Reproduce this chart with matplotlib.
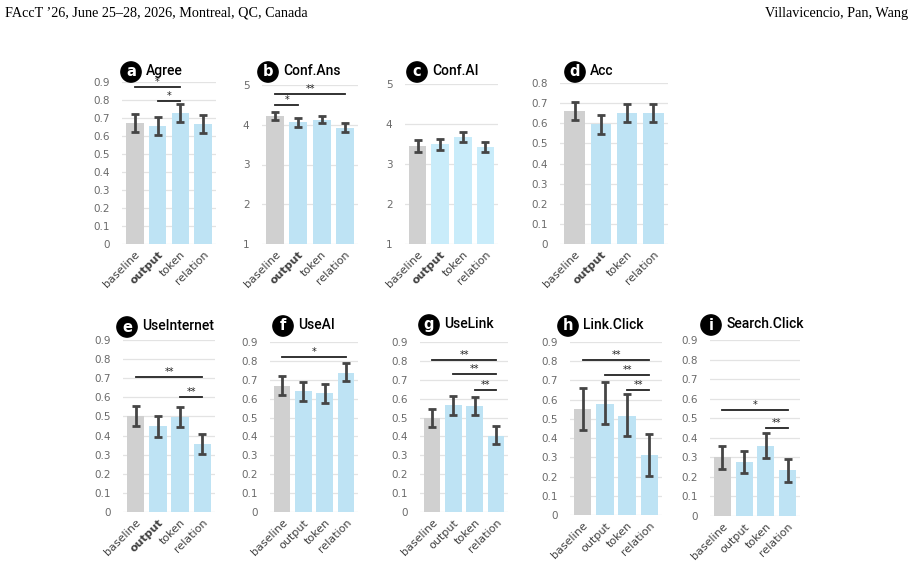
import matplotlib
matplotlib.use("Agg")
import matplotlib.pyplot as plt

W, H = 913, 570
conds = ["baseline", "output", "token", "relation"]

# values (mean) and error-bar bounds per panel
agree = [0.670, 0.653, 0.727, 0.668]
agree_lo = [0.622, 0.605, 0.679, 0.614]
agree_hi = [0.720, 0.707, 0.778, 0.716]

confans = [4.22, 4.07, 4.13, 3.93]
confans_lo = [4.12, 3.95, 4.04, 3.83]
confans_hi = [4.32, 4.18, 4.23, 4.04]

confai = [3.46, 3.49, 3.68, 3.42]
confai_lo = [3.31, 3.34, 3.56, 3.30]
confai_hi = [3.61, 3.62, 3.79, 3.55]

acc = [0.662, 0.594, 0.650, 0.650]
acc_lo = [0.618, 0.545, 0.604, 0.604]
acc_hi = [0.707, 0.642, 0.695, 0.695]

useint = [0.503, 0.450, 0.498, 0.356]
useint_lo = [0.448, 0.395, 0.446, 0.303]
useint_hi = [0.556, 0.503, 0.551, 0.408]

useai = [0.668, 0.639, 0.630, 0.737]
useai_lo = [0.621, 0.590, 0.578, 0.691]
useai_hi = [0.720, 0.690, 0.680, 0.789]

uselink = [0.497, 0.564, 0.561, 0.405]
uselink_lo = [0.450, 0.511, 0.511, 0.360]
uselink_hi = [0.545, 0.616, 0.609, 0.453]

linkclick = [0.553, 0.580, 0.515, 0.313]
linkclick_lo = [0.443, 0.475, 0.409, 0.205]
linkclick_hi = [0.661, 0.691, 0.627, 0.420]

searchclick = [0.300, 0.275, 0.360, 0.233]
searchclick_lo = [0.241, 0.221, 0.297, 0.176]
searchclick_hi = [0.360, 0.331, 0.424, 0.289]

# significance brackets: (i, j, y, label)
sig_a = [(0, 2, 0.870, "*"), (1, 2, 0.797, "*")]
sig_b = [(0, 3, 4.78, "**"), (0, 1, 4.49, "*")]
sig_e = [(0, 3, 0.705, "**"), (2, 3, 0.600, "**")]
sig_f = [(0, 3, 0.820, "*")]
sig_g = [(0, 3, 0.805, "**"), (1, 3, 0.728, "**"), (2, 3, 0.648, "**")]
sig_h = [(0, 3, 0.805, "**"), (1, 3, 0.730, "**"), (2, 3, 0.649, "**")]
sig_i = [(0, 3, 0.540, "*"), (2, 3, 0.450, "**")]

ticks_09 = [0, 0.1, 0.2, 0.3, 0.4, 0.5, 0.6, 0.7, 0.8, 0.9]
ticks_08 = [0, 0.1, 0.2, 0.3, 0.4, 0.5, 0.6, 0.7, 0.8]
ticks_15 = [1, 2, 3, 4, 5]

panels = [
    # letter, title, vals, lo, hi, sigs, ticks, rect(px: x0,x1,ytop,ybot), title pos, blue, bold output
    ("a", "Agree", agree, agree_lo, agree_hi, sig_a, ticks_09, (122, 216, 82, 244), (131, 72), "#BEE3F4", True),
    ("b", "Conf.Ans", confans, confans_lo, confans_hi, sig_b, ticks_15, (262, 358, 85, 244), (268, 72), "#BEE3F4", True),
    ("c", "Conf.AI", confai, confai_lo, confai_hi, [], ticks_15, (405, 498, 84, 244), (417, 72), "#C9ECFA", True),
    ("d", "Acc", acc, acc_lo, acc_hi, [], ticks_08, (560, 668, 83, 244), (575, 72), "#BEE3F4", True),
    ("e", "UseInternet", useint, useint_lo, useint_hi, sig_e, ticks_09, (123, 215, 340, 512), (127, 327), "#BEE3F4", True),
    ("f", "UseAI", useai, useai_lo, useai_hi, sig_f, ticks_09, (270, 358, 342, 512), (283, 326), "#BEE3F4", False),
    ("g", "UseLink", uselink, uselink_lo, uselink_hi, sig_g, ticks_09, (420, 508, 342, 512), (429, 325), "#BEE3F4", False),
    ("h", "Link.Click", linkclick, linkclick_lo, linkclick_hi, sig_h, ticks_09, (570, 662, 342, 515), (568, 326), "#BEE3F4", False),
    ("i", "Search.Click", searchclick, searchclick_lo, searchclick_hi, sig_i, ticks_09, (710, 800, 340, 516), (711, 325), "#BEE3F4", False),
]

fig = plt.figure(figsize=(W / 100, H / 100), dpi=100)
fig.patch.set_facecolor("white")

fig.text(5 / W, 1 - 13 / H, "FAccT \u201926, June 25\u201328, 2026, Montreal, QC, Canada",
         family="Liberation Serif", fontsize=10.2, ha="left", va="center", color="black")
fig.text(908 / W, 1 - 13 / H, "Villavicencio, Pan, Wang",
         family="Liberation Serif", fontsize=10.2, ha="right", va="center", color="black")

for (letter, title, vals, lo, hi, sigs, ticks, rect, tpos, blue, boldout) in panels:
    x0, x1, yt, yb = rect
    ax = fig.add_axes([x0 / W, 1 - yb / H, (x1 - x0) / W, (yb - yt) / H])
    colors = ["#D0D0D0", blue, blue, blue]
    xs = list(range(len(conds)))
    ax.bar(xs, vals, width=0.78, color=colors, zorder=2)
    yerr = [[v - l for v, l in zip(vals, lo)], [h - v for v, h in zip(vals, hi)]]
    ax.errorbar(xs, vals, yerr=yerr, fmt="none", ecolor="#454545", elinewidth=2,
                capsize=3, capthick=2, zorder=3)
    ax.set_xlim(-0.56, 3.56)
    ax.set_ylim(ticks[0], ticks[-1])
    ax.set_yticks(ticks)
    ax.set_yticklabels([("%g" % t) for t in ticks], fontsize=7.5, color="#6a6a6a")
    ax.yaxis.grid(True, color="#E3E3E3", lw=0.9, zorder=0)
    ax.set_axisbelow(True)
    for s in ax.spines.values():
        s.set_visible(False)
    ax.tick_params(axis="both", length=0, pad=9)
    ax.set_xticks(xs)
    ax.set_xticklabels(conds, rotation=45, ha="right", rotation_mode="anchor",
                       fontsize=8, color="#404040")
    ax.tick_params(axis="x", pad=4)
    if boldout:
        ax.get_xticklabels()[1].set_fontweight("bold")
    for (i, j, y, lab) in sigs:
        ax.plot([i, j], [y, y], color="#222222", lw=1.3, clip_on=False, zorder=4)
        ax.text((i + j) / 2, y, lab, ha="center", va="bottom", fontsize=7,
                color="#222222", clip_on=False)
    cx, cy = tpos
    fig.text(cx / W, 1 - cy / H, letter, ha="center", va="center", color="white",
             fontsize=10.5, fontweight="bold",
             bbox=dict(boxstyle="circle,pad=0.18", fc="black", ec="black"))
    fig.text((cx + 15) / W, 1 - (cy - 1) / H, title, ha="left", va="center",
             color="black", fontsize=10, fontweight="medium", family="Roboto")

fig.savefig("out.png", dpi=100, facecolor="white")
